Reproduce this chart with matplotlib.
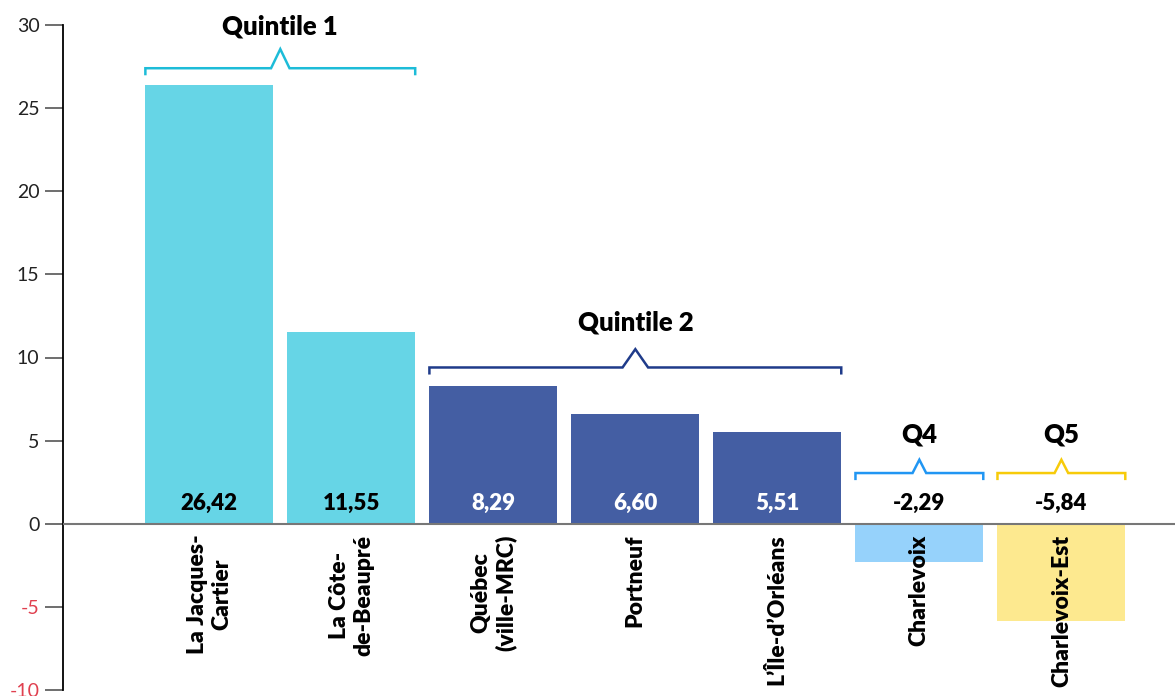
import numpy as np
import matplotlib
matplotlib.use("Agg")
from matplotlib import pyplot as plt

plt.rcParams['font.family'] = ['Lato', 'DejaVu Sans']

# data
regions = ["La Jacques-\nCartier", "La Côte-\nde-Beaupré", "Québec\n(ville-MRC)",
           "Portneuf", "L\u2019Île-d\u2019Orléans", "Charlevoix", "Charlevoix-Est"]
values = [26.42, 11.55, 8.29, 6.60, 5.51, -2.29, -5.84]
bar_colors = ["#66d5e6", "#66d5e6", "#445ea3", "#445ea3", "#445ea3", "#96d2fb", "#fde98f"]
value_colors = ["black", "black", "white", "white", "white", "black", "black"]

groups = ["Quintile 1", "Quintile 2", "Q4", "Q5"]
group_first = [0, 2, 5, 6]
group_last = [1, 4, 5, 6]
group_colors = ["#1dbcd8", "#1f3b8a", "#2196f3", "#f7cb0a"]

# layout of the brackets (line level, caret size, title level)
br_level = [27.4, 9.4, 3.05, 3.05]
br_caret_w = [0.065, 0.09, 0.048, 0.048]
br_caret_h = [1.15, 1.1, 0.8, 0.8]
title_y = [29.9, 12.1, 5.35, 5.35]

yticks = [-10, -5, 0, 5, 10, 15, 20, 25, 30]

fig = plt.figure(figsize=(11.75, 6.96), dpi=100)
ax = fig.add_axes([63 / 1175, 6 / 696, 1 - 63 / 1175, 665 / 696])

x = np.arange(len(values))
width = 0.9
ax.bar(x, values, width=width, color=bar_colors, zorder=2)

# zero line
ax.axhline(0, color="#777777", lw=1.5, zorder=3)

for xi, v, c in zip(x, values, value_colors):
    ax.text(xi, 1.25, f"{v:.2f}".replace(".", ","), ha="center", va="center",
            fontsize=16, fontweight="heavy", color=c, zorder=4)

for xi, name in zip(x, regions):
    ax.text(xi, -0.65, name, rotation=90, ha="center", va="top", multialignment="center",
            fontsize=16.5, fontweight="heavy", color="black", zorder=4, linespacing=1.2)

for g, name in enumerate(groups):
    x0 = group_first[g] - width / 2
    x1 = group_last[g] + width / 2
    xm = (x0 + x1) / 2
    yl = br_level[g]
    w = br_caret_w[g]
    h = br_caret_h[g]
    drop = 0.35
    bx = [x0, x0, xm - w, xm, xm + w, x1, x1]
    by = [yl - drop, yl, yl, yl + h, yl, yl, yl - drop]
    ax.plot(bx, by, color=group_colors[g], lw=1.8, solid_joinstyle="miter", clip_on=False, zorder=4)
    ax.text(xm, title_y[g], name, ha="center", va="center", fontsize=18.5,
            fontweight="heavy", color="black", clip_on=False)

ax.set_xlim(-1.03, 6.8)
ax.set_ylim(-10, 30)
ax.set_yticks(yticks)
ax.set_yticklabels([str(t) for t in yticks])
ax.set_xticks([])
ax.tick_params(axis="y", direction="out", length=13, width=1.2, color="#555555",
               labelsize=14, pad=4)
for lbl, t in zip(ax.get_yticklabels(), yticks):
    lbl.set_color("#e0404f" if t < 0 else "#222222")

for s in ["top", "right", "bottom"]:
    ax.spines[s].set_visible(False)
ax.spines["left"].set_color("black")
ax.spines["left"].set_linewidth(1.3)

fig.savefig("out.png", dpi=100)
